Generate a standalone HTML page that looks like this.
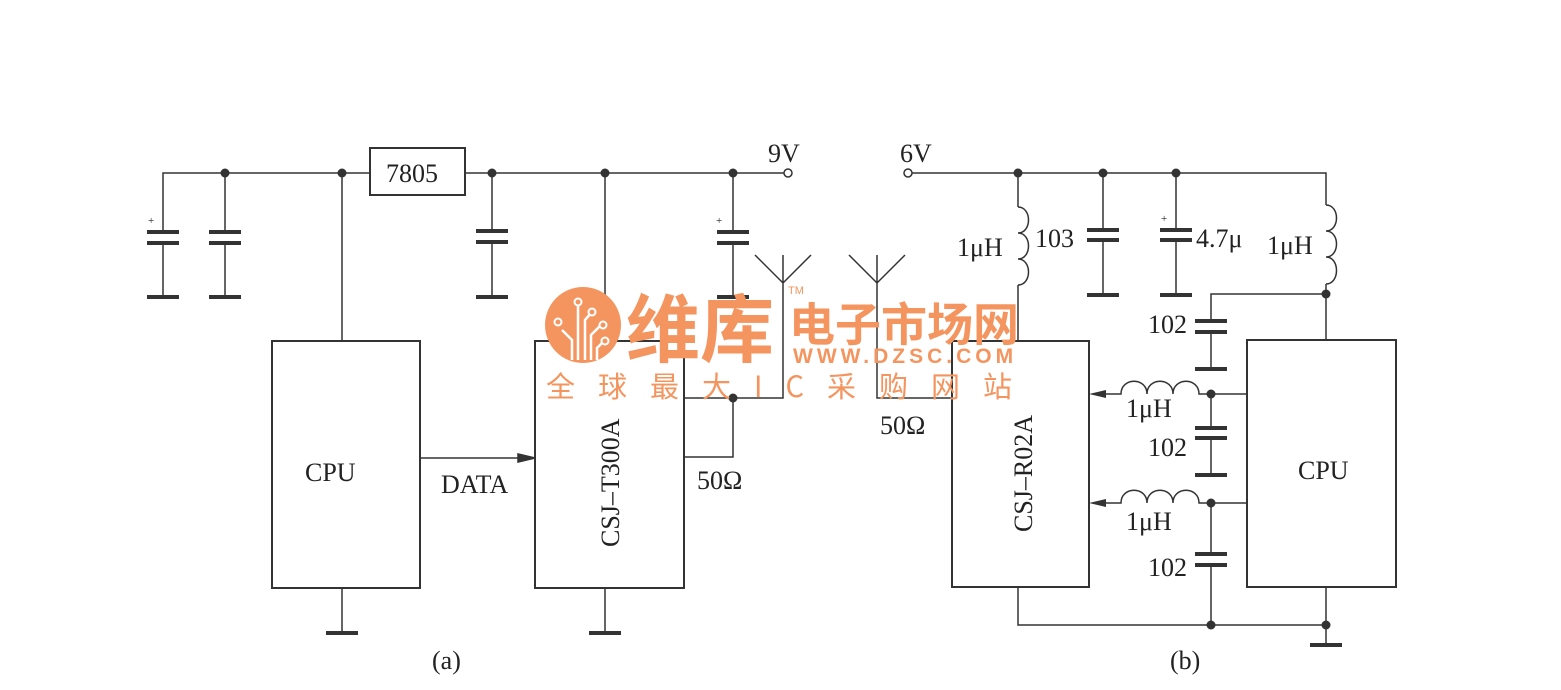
<!DOCTYPE html>
<html><head><meta charset="utf-8"><style>
body{margin:0;background:#fff;}
svg text{font-family:"Liberation Serif","Noto Serif CJK SC",serif;fill:#222;}
</style></head><body>
<svg width="1561" height="685" viewBox="0 0 1561 685" xmlns="http://www.w3.org/2000/svg">
<g stroke="#333" stroke-width="1.5" fill="none">
<path d="M163 232V173H370M465 173H784"/>
<rect x="370" y="148" width="95" height="47" stroke-width="2"/>
<path d="M163 243V297M225 173V232M225 243V297M492 173V231M492 242V297M733 173V232M733 243V297"/>
<g stroke-width="4">
<path d="M147 232H179M147 243H179M147 297H179M209 232H241M209 243H241M209 297H241M476 231H508M476 242H508M476 297H508M717 232H749M717 243H749M717 297H749"/>
</g>
<circle cx="788" cy="173" r="4"/>
<rect x="272" y="341" width="148" height="247" stroke-width="2"/>
<path d="M342 173V341M342 588V633"/>
<path d="M326 633H358" stroke-width="4"/>
<rect x="535" y="341" width="149" height="247" stroke-width="2"/>
<path d="M605 173V341M605 588V633"/>
<path d="M589 633H621" stroke-width="4"/>
<path d="M420 458H530"/>
<path d="M535 458L518 454L518 462Z" fill="#333"/>
<path d="M684 398H783V255M755 255L783 283L811 255M733 398V457H684"/>
<path d="M877 255V398H952M849 255L877 283L905 255"/>
<circle cx="908" cy="173" r="4"/>
<path d="M912 173H1326V205M1326 284V340M1326 294H1211V321M1211 332V369"/>
<path d="M1326 205c14 0 14 26 0 26c14 0 14 26 0 26c14 0 14 27 0 27"/>
<path d="M1018 173V207M1018 285V341"/>
<path d="M1018 207c14 0 14 26 0 26c14 0 14 26 0 26c14 0 14 26 0 26"/>
<path d="M1103 173V230M1103 240V295M1176 173V230M1176 240V295"/>
<g stroke-width="4">
<path d="M1087 230H1119M1087 240H1119M1087 295H1119M1160 230H1192M1160 240H1192M1160 295H1192M1195 321H1227M1195 332H1227M1195 369H1227"/>
<path d="M1195 428H1227M1195 438H1227M1195 475H1227M1195 554H1227M1195 565H1227"/>
</g>
<rect x="952" y="341" width="137" height="246" stroke-width="2"/>
<rect x="1247" y="340" width="149" height="247" stroke-width="2"/>
<path d="M1247 394H1199c0-17-26-17-26 0c0-17-26-17-26 0c0-17-26-17-26 0H1094M1211 394V428M1211 438V475"/>
<path d="M1247 503H1199c0-17-26-17-26 0c0-17-26-17-26 0c0-17-26-17-26 0H1094M1211 503V554M1211 565V625"/>
<path d="M1018 587V625H1326M1326 587V645"/>
<path d="M1310 645H1342" stroke-width="4"/>
</g>
<path d="M1089 394L1106 390L1106 398Z M1089 503L1106 499L1106 507Z" fill="#333"/>
<g fill="#333">
<circle cx="225" cy="173" r="4.5"/><circle cx="342" cy="173" r="4.5"/><circle cx="492" cy="173" r="4.5"/><circle cx="605" cy="173" r="4.5"/><circle cx="733" cy="173" r="4.5"/><circle cx="733" cy="398" r="4.5"/>
<circle cx="1018" cy="173" r="4.5"/><circle cx="1103" cy="173" r="4.5"/><circle cx="1176" cy="173" r="4.5"/><circle cx="1326" cy="294" r="4.5"/><circle cx="1211" cy="394" r="4.5"/><circle cx="1211" cy="503" r="4.5"/><circle cx="1211" cy="625" r="4.5"/><circle cx="1326" cy="625" r="4.5"/>
</g>
<g font-size="11"><text x="148" y="224">+</text><text x="716" y="224">+</text><text x="1161" y="222">+</text></g>
<g font-size="26">
<text x="386" y="182">7805</text>
<text x="768" y="162">9V</text>
<text x="900" y="162">6V</text>
<text x="305" y="481">CPU</text>
<text x="441" y="493">DATA</text>
<text x="697" y="489">50Ω</text>
<text x="880" y="434">50Ω</text>
<text x="1298" y="479">CPU</text>
<text x="957" y="256">1μH</text>
<text x="1035" y="247">103</text>
<text x="1196" y="247">4.7μ</text>
<text x="1267" y="254">1μH</text>
<text x="1148" y="333">102</text>
<text x="1126" y="417">1μH</text>
<text x="1148" y="456">102</text>
<text x="1126" y="530">1μH</text>
<text x="1148" y="576">102</text>
<text x="432" y="669">(a)</text>
<text x="1170" y="669">(b)</text>
<text transform="translate(619 547) rotate(-90)">CSJ–T300A</text>
<text transform="translate(1032 532) rotate(-90)">CSJ–R02A</text>
</g>
<g fill="#f4955f">
<circle cx="583" cy="325" r="38"/>
<text x="626" y="356" font-size="74" font-weight="bold" style="fill:#f4955f;font-family:'Noto Sans CJK SC',sans-serif">维库</text>
<text x="789" y="341" font-size="46" font-weight="bold" style="fill:#f4955f;font-family:'Noto Sans CJK SC',sans-serif">电子市场网</text>
<text x="793" y="363" font-size="21" font-weight="bold" letter-spacing="4" style="fill:#f4955f;font-family:'Liberation Sans',sans-serif">WWW.DZSC.COM</text>
<text x="546" y="397" font-size="29" letter-spacing="23" style="fill:#f4955f;font-family:'Noto Sans CJK SC',sans-serif">全球最大IC采购网站</text>
<text x="788" y="294" font-size="11" style="fill:#f4955f;font-family:'Liberation Sans',sans-serif">TM</text>
</g>
<g stroke="#fff" stroke-width="2.5" fill="none">
<path d="M578 360V305M585 360V320L591 313M591 360V335L600 326M597 360V348L603 342M572 360V340L562 330"/>
</g>
<g stroke="#fff" stroke-width="2" fill="#f4955f">
<circle cx="578" cy="302" r="3.5"/><circle cx="592" cy="312" r="3.5"/><circle cx="603" cy="325" r="3.5"/><circle cx="605" cy="341" r="3.5"/><circle cx="558" cy="322" r="3.5"/>
</g>
</svg>
</body></html>
